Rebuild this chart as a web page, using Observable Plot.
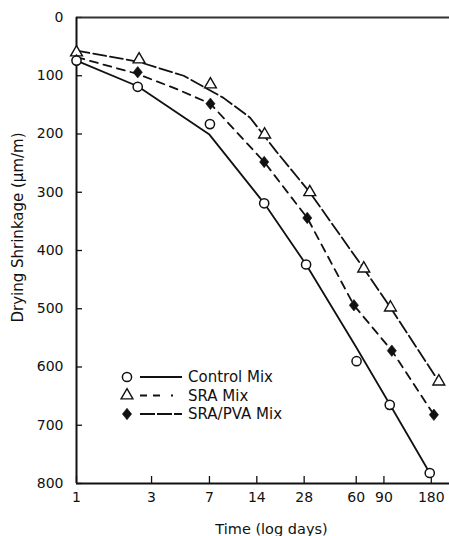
<!DOCTYPE html>
<html><head><meta charset="utf-8">
<script src="https://cdn.jsdelivr.net/npm/d3@7"></script>
<script src="https://cdn.jsdelivr.net/npm/@observablehq/plot@0.6"></script>
<style>
body{margin:0;background:#fff;}
#wrap{position:relative;width:449px;height:536px;overflow:hidden;background:#fff;}
#legend{position:absolute;left:0;top:0;}
</style></head><body><div id="wrap"></div>
<script>
// tick labels
const xTicks = [1, 3, 7, 14, 28, 60, 90, 180];
const yTicks = [0, 100, 200, 300, 400, 500, 600, 700, 800];

// measured points (days, shrinkage µm/m)
const controlDays = [1, 2.45, 7.05, 15.6, 28.8, 60.3, 98, 176];
const controlVals = [74, 119, 183, 319, 424, 590, 665, 782];
const sraDays = [1, 2.5, 7.1, 15.7, 30.4, 67, 99, 201];
const sraVals = [60, 72, 115, 201, 300, 431, 498, 625];
const pvaDays = [1, 2.45, 7.1, 15.6, 29.3, 58, 101, 187];
const pvaVals = [73, 94, 148, 248, 344, 494, 572, 682];

// fitted curves (days, shrinkage µm/m)
const controlFitDays = [1, 2.45, 7, 15.6, 28.8, 60, 98, 176];
const controlFitVals = [74, 118, 201, 319, 424, 566, 664, 782];
const sraFitDays = [1, 2.48, 4.8, 8.6, 12.7, 18.5, 30.4, 67, 99, 201];
const sraFitVals = [57, 76, 100, 138, 172, 229, 300, 431, 498, 625];
const pvaFitDays = [1, 2.45, 4.35, 7.1, 15.6, 29.3, 58, 101, 187];
const pvaFitVals = [68, 97, 123, 148, 248, 344, 494, 572, 682];

const seriesNames = ["Control Mix", "SRA Mix", "SRA/PVA Mix"];

const zip = (days, vals) => days.map((d, i) => ({day: d, val: vals[i]}));
const ink = "#111";

const tallDiamond = {
  draw(ctx, size) {
    const h = Math.sqrt(size / 1.6), w = 0.8 * h;
    ctx.moveTo(0, -h); ctx.lineTo(w, 0); ctx.lineTo(0, h); ctx.lineTo(-w, 0); ctx.closePath();
  }
};

const chart = Plot.plot({
  width: 449, height: 536,
  marginTop: 17, marginLeft: 76, marginRight: 0, marginBottom: 53,
  style: {fontFamily: "DejaVu Sans", fontSize: "14px", color: ink, background: "#fff", overflow: "visible"},
  x: {type: "log", domain: [1, 235], axis: null},
  y: {domain: [0, 800], reverse: true},
  marks: [
    Plot.axisY(yTicks, {tickSize: 0, tickPadding: 13, label: null, tickFormat: d => String(d)}),
    Plot.text(xTicks, {x: d => d, text: d => String(d), frameAnchor: "bottom", lineAnchor: "top", dy: 9, fontSize: 14}),
    Plot.tickX(xTicks, {x: d => d, insetTop: 459, stroke: ink, strokeWidth: 1.3}),
    Plot.tickY(yTicks, {y: d => d, insetRight: 367, stroke: ink, strokeWidth: 1.3}),
    Plot.ruleY([0], {stroke: "#333", strokeWidth: 2}),
    Plot.ruleY([800], {stroke: ink, strokeWidth: 2}),
    Plot.ruleX([1], {stroke: ink, strokeWidth: 2}),
    Plot.line(zip(controlFitDays, controlFitVals), {x: "day", y: "val", stroke: ink, strokeWidth: 1.8}),
    Plot.line(zip(sraFitDays, sraFitVals), {x: "day", y: "val", stroke: ink, strokeWidth: 1.8, strokeDasharray: "13,4"}),
    Plot.line(zip(pvaFitDays, pvaFitVals), {x: "day", y: "val", stroke: ink, strokeWidth: 1.8, strokeDasharray: "8,6"}),
    Plot.dot(zip(sraDays, sraVals), {x: "day", y: "val", symbol: "triangle", r: 4.4, fill: "white", stroke: ink, strokeWidth: 1.4}),
    Plot.dot(zip(pvaDays, pvaVals), {x: "day", y: "val", symbol: tallDiamond, r: 4.1, fill: ink, stroke: ink, strokeWidth: 0.6}),
    Plot.dot(zip(controlDays, controlVals), {x: "day", y: "val", symbol: "circle", r: 4.6, fill: "white", stroke: ink, strokeWidth: 1.5}),
    Plot.text(["Drying Shrinkage (µm/m)"], {text: d => d, frameAnchor: "left", textAnchor: "middle", lineAnchor: "middle", rotate: -90, dx: -58, dy: -23, fontSize: 15}),
    Plot.text(["Time (log days)"], {text: d => d, frameAnchor: "bottom", textAnchor: "middle", lineAnchor: "middle", dx: 8.5, dy: 45.5, fontSize: 14.5})
  ]
});

const wrap = document.getElementById("wrap");
wrap.appendChild(chart);

// legend overlay
const lg = d3.select(wrap).append("svg").attr("id", "legend")
  .attr("width", 449).attr("height", 536)
  .style("font-family", "DejaVu Sans").style("font-size", "15px");
const rows = [
  {name: seriesNames[0], y: 377, sym: d3.symbolCircle, size: Math.PI * 4.6 * 4.6, fill: "white", sw: 1.5, dash: null, x2: 182},
  {name: seriesNames[1], y: 395.5, sym: d3.symbolTriangle, size: Math.PI * 4.4 * 4.4, fill: "white", sw: 1.4, dash: "7,6,7,11,2", x2: 173},
  {name: seriesNames[2], y: 414, sym: tallDiamond, size: Math.PI * 4.1 * 4.1, fill: ink, sw: 0.6, dash: "15,2", x2: 182}
];
rows.forEach(r => {
  lg.append("path").attr("d", d3.symbol(r.sym, r.size)()).attr("transform", `translate(127,${r.y})`)
    .attr("fill", r.fill).attr("stroke", ink).attr("stroke-width", r.sw);
  lg.append("line").attr("x1", 140).attr("x2", r.x2).attr("y1", r.y).attr("y2", r.y)
    .attr("stroke", ink).attr("stroke-width", 1.8).attr("stroke-dasharray", r.dash);
  lg.append("text").attr("x", 188).attr("y", r.y).attr("dy", "0.35em").attr("fill", ink).text(r.name);
});
</script>
</body></html>
